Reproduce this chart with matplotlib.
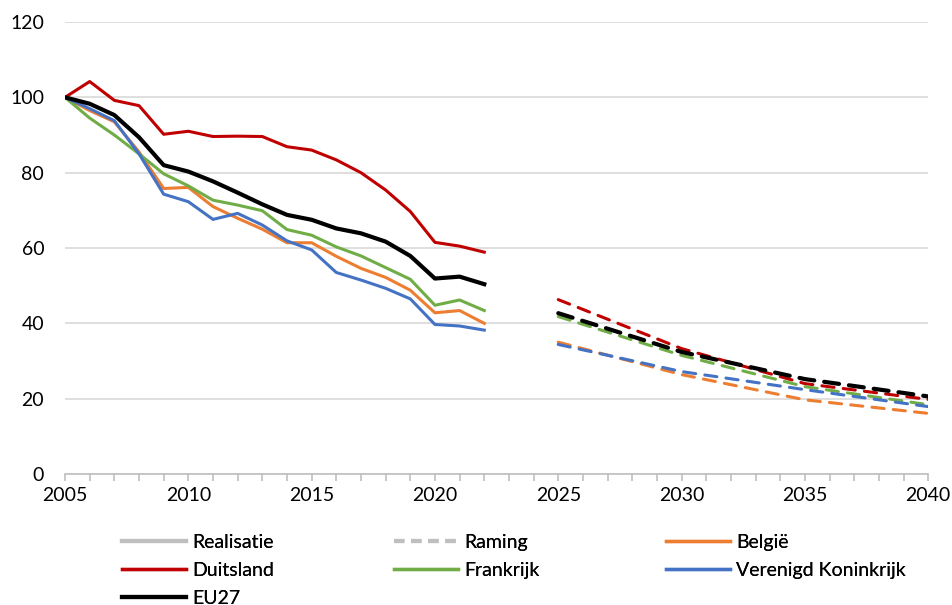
import matplotlib.pyplot as plt
from matplotlib.lines import Line2D
from matplotlib.ticker import MultipleLocator

plt.rcParams['font.family'] = ['Lato', 'DejaVu Sans']
plt.rcParams['font.size'] = 14

# Realisatie (index 2005 = 100)
years = list(range(2005, 2023))
belgie = [100, 96.5, 93.5, 85.5, 75.8, 76.1, 71.0, 67.9, 65.0, 61.4, 61.4, 57.8, 54.6, 52.2, 48.8, 42.8, 43.4, 40.0]
duitsland = [100, 104.2, 99.2, 97.8, 90.2, 91.0, 89.6, 89.7, 89.6, 86.9, 86.0, 83.4, 80.0, 75.4, 69.7, 61.5, 60.5, 58.9]
frankrijk = [100, 94.5, 90.0, 85.0, 79.7, 76.5, 72.7, 71.4, 69.9, 64.9, 63.4, 60.3, 57.9, 54.8, 51.7, 44.8, 46.2, 43.4]
vk = [100, 97.0, 93.8, 85.0, 74.3, 72.3, 67.6, 69.2, 66.1, 61.9, 59.5, 53.5, 51.5, 49.3, 46.5, 39.7, 39.3, 38.2]
eu27 = [100, 98.3, 95.3, 89.4, 82.0, 80.3, 77.7, 74.7, 71.6, 68.8, 67.5, 65.2, 63.9, 61.7, 57.9, 51.9, 52.4, 50.4]

# Raming
years_proj = [2025, 2030, 2035, 2040]
belgie_proj = [35.0, 26.4, 19.7, 16.1]
duitsland_proj = [46.3, 33.3, 24.0, 19.8]
frankrijk_proj = [41.8, 31.5, 23.2, 18.4]
vk_proj = [34.4, 27.2, 22.4, 17.9]
eu27_proj = [42.7, 32.4, 25.2, 20.6]

ORANGE = '#ED7D31'
RED = '#C00000'
GREEN = '#70AD47'
BLUE = '#4472C4'
BLACK = '#000000'
GREY = '#BFBFBF'

series = [
    ('België', belgie, belgie_proj, ORANGE, 2.2),
    ('Duitsland', duitsland, duitsland_proj, RED, 2.2),
    ('Frankrijk', frankrijk, frankrijk_proj, GREEN, 2.2),
    ('Verenigd Koninkrijk', vk, vk_proj, BLUE, 2.2),
    ('EU27', eu27, eu27_proj, BLACK, 3.0),
]

fig = plt.figure(figsize=(9.52, 6.05), dpi=100)
ax = fig.add_axes([0.0683, 0.2165, 0.9067, 0.7471])

for name, hist, proj, color, lw in series:
    ax.plot(years, hist, color=color, lw=lw, solid_joinstyle='round')
    dash = (4, 3) if lw < 3 else (3.6, 2.4)
    ax.plot(years_proj, proj, color=color, lw=lw, dashes=dash, dash_capstyle='round')

ax.set_xlim(2005, 2040)
ax.set_ylim(0, 120)
ax.xaxis.set_major_locator(MultipleLocator(5))
ax.xaxis.set_minor_locator(MultipleLocator(1))
ax.yaxis.set_major_locator(MultipleLocator(20))
ax.grid(axis='y', color='#D9D9D9', lw=1.2)
ax.set_axisbelow(True)
for s in ['top', 'right', 'left']:
    ax.spines[s].set_visible(False)
ax.spines['bottom'].set_color('#BFBFBF')
ax.spines['bottom'].set_linewidth(1.2)
ax.tick_params(axis='x', which='both', length=5, width=1.2, color='#BFBFBF', pad=4)
ax.tick_params(axis='y', length=0, pad=15)

h = {
    'Realisatie': Line2D([], [], color=GREY, lw=3),
    'Raming': Line2D([], [], color=GREY, lw=3, dashes=(2.5, 1.6)),
}
for name, _, _, color, lw in series:
    h[name] = Line2D([], [], color=color, lw=2.4 if lw < 3 else 3)

# one legend per column so the columns sit where they do in the reference
columns = [
    (['Realisatie', 'Duitsland', 'EU27'], 122),
    (['Raming', 'Frankrijk'], 394),
    (['België', 'Verenigd Koninkrijk'], 666),
]
for names, x0 in columns:
    leg = fig.legend([h[k] for k in names], names, loc='upper left',
                     bbox_to_anchor=(x0 / 952, 1 - 534 / 605), frameon=False,
                     borderpad=0, borderaxespad=0, handlelength=3.3,
                     handletextpad=0.3, labelspacing=0.56)
    fig.add_artist(leg)

fig.savefig('out.png', dpi=100)
